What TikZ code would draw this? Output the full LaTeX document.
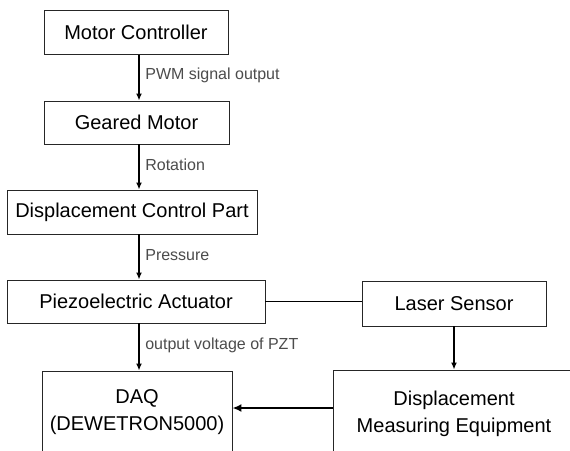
\documentclass[tikz,border=0pt]{standalone}
\usepackage{fontspec}
\setmainfont{Liberation Sans}
\usetikzlibrary{arrows.meta}

\tikzset{
	blk/.style={draw=black!85, line width=0.9pt, fill=white, font=\fontsize{20}{27}\selectfont, align=center, inner sep=0pt},
	flow/.style={line width=2pt, -{Latex[length=7pt,width=6pt]}},
	lbl/.style={font=\fontsize{16}{18}\selectfont, text=black!70, right, xshift=2pt, yshift=2pt}
}

\begin{document}
\begin{tikzpicture}[x=1pt, y=-1pt]
		
		% Page area (pixel coordinates, y downwards)
		\useasboundingbox (0, 0) rectangle (570, 450);
		\clip (0, 0) rectangle (570, 450);
		\fill[white] (0, 0) rectangle (570, 450);
		
		% Left column of blocks
		\node[blk, minimum width=184, minimum height=44] (mc) at (136, 32.5) {Motor Controller};
		\node[blk, minimum width=185, minimum height=43] (gm) at (136.5, 122.5) {Geared Motor};
		\node[blk, minimum width=250, minimum height=44] (dcp) at (132, 212) {Displacement Control Part};
		\node[blk, minimum width=258, minimum height=43] (pzt) at (136, 301.5) {Piezoelectric Actuator};
		\node[blk, minimum width=190, minimum height=82] (daq) at (137, 412) {DAQ\\(DEWETRON5000)};
		
		% Right column of blocks
		\node[blk, minimum width=184, minimum height=45] (ls) at (454, 303.5) {Laser Sensor};
		\node[blk, minimum width=242, minimum height=88] (dme) at (454, 414) {Displacement\\Measuring Equipment};
		
		% Signal chain
		\coordinate (ax) at (139, 0);
		\draw[flow] (mc.south -| ax) -- (gm.north -| ax) node[lbl, midway] {PWM signal output};
		\draw[flow] (gm.south -| ax) -- (dcp.north -| ax) node[lbl, midway] {Rotation};
		\draw[flow] (dcp.south -| ax) -- (pzt.north -| ax) node[lbl, midway] {Pressure};
		\draw[flow] (pzt.south -| ax) -- (daq.north -| ax) node[lbl, midway] {output voltage of PZT};
		
		% Measurement side
		\draw[line width=0.9pt] (pzt.east) -- (pzt.east -| ls.west);
		\draw[flow] (ls.south) -- (dme.north);
		\draw[line width=2.6pt, -{Latex[length=9pt,width=8pt]}] (dme.west |- 0, 408) -- (daq.east |- 0, 408);
	\end{tikzpicture}
\end{document}
